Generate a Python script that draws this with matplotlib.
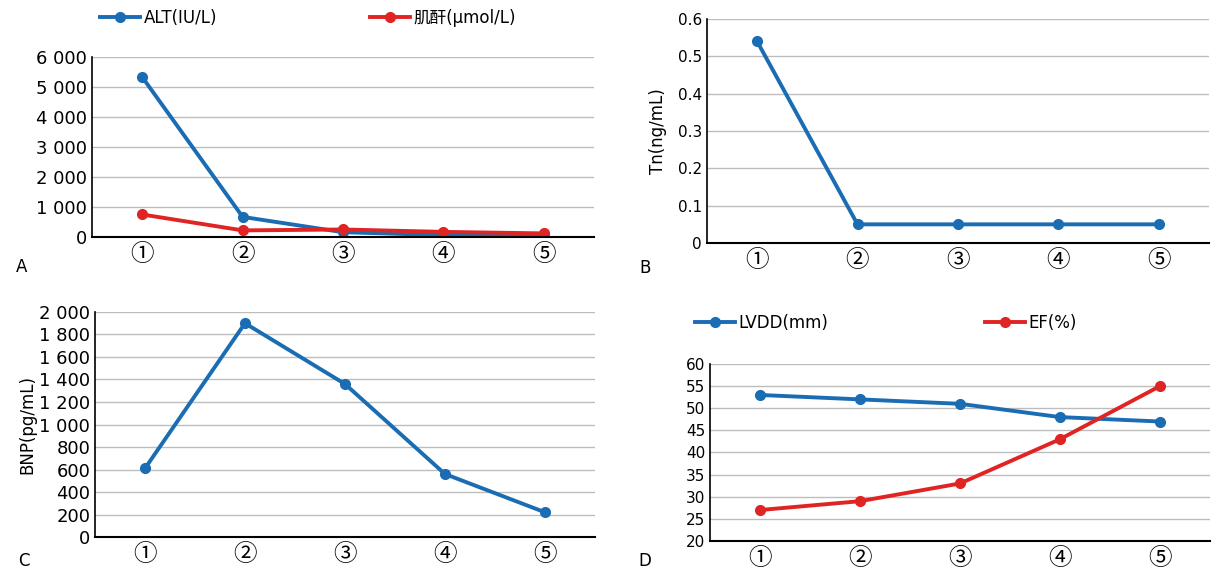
import matplotlib.pyplot as plt
from matplotlib.legend import Legend
from matplotlib.ticker import FuncFormatter

plt.rcParams['font.family'] = ['DejaVu Sans', 'Noto Sans CJK SC']

stages = ['①', '②', '③', '④', '⑤']

# panel A
alt = [5330, 670, 160, 60, 30]
creat = [750, 220, 250, 170, 120]
# panel B
tn = [0.54, 0.05, 0.05, 0.05, 0.05]
# panel C
bnp = [610, 1900, 1360, 560, 220]
# panel D
lvdd = [53, 52, 51, 48, 47]
ef = [27, 29, 33, 43, 55]

BLUE = '#1a6db3'
RED = '#e02424'
GRID = '#bdbdbd'


def thousands(v, pos):
    v = int(round(v))
    if v >= 1000:
        return '%d %03d' % (v // 1000, v % 1000)
    return str(v)


def style(ax, ylim, step, fmt=None, fs=12):
    ax.set_xlim(0, 5)
    ax.set_ylim(*ylim)
    ticks = []
    t = ylim[0]
    while t <= ylim[1] + 1e-9:
        ticks.append(round(t, 6))
        t += step
    ax.set_yticks(ticks)
    if fmt:
        ax.yaxis.set_major_formatter(FuncFormatter(fmt))
    ax.set_xticks([i + 0.5 for i in range(5)])
    ax.set_xticklabels(stages, fontsize=17, family=['Noto Sans CJK SC', 'DejaVu Sans'])
    ax.tick_params(axis='y', length=0, labelsize=fs)
    ax.tick_params(axis='x', length=0, pad=4)
    ax.grid(axis='y', color=GRID, lw=1)
    ax.set_axisbelow(True)
    for s in ['top', 'right']:
        ax.spines[s].set_visible(False)
    ax.spines['left'].set_linewidth(1.2)
    ax.spines['bottom'].set_linewidth(1.5)


def legend_at(ax, line, label, xpos, ypos):
    leg = Legend(ax, [line], [label], loc='center left', bbox_to_anchor=(xpos, ypos),
                 frameon=False, handlelength=2.4, handletextpad=0.2,
                 borderaxespad=0, borderpad=0,
                 prop={'family': ['DejaVu Sans', 'Noto Sans CJK SC'], 'size': 12})
    ax.add_artist(leg)


fig = plt.figure(figsize=(12.32, 5.69), dpi=100)
x = [i + 0.5 for i in range(5)]
kw = dict(lw=2.8, marker='o', ms=7)

axA = fig.add_axes([0.0747, 0.5835, 0.4075, 0.3163])
la, = axA.plot(x, alt, color=BLUE, **kw)
lc, = axA.plot(x, creat, color=RED, **kw)
style(axA, (0, 6000), 1000, thousands, fs=13)
legend_at(axA, la, 'ALT(IU/L)', 0.016, 1.217)
legend_at(axA, lc, '肌酐(μmol/L)', 0.554, 1.217)

axB = fig.add_axes([0.5738, 0.5729, 0.4075, 0.3937])
axB.plot(x, tn, color=BLUE, **kw)
style(axB, (0, 0.6), 0.1, lambda v, p: '0' if v == 0 else '%.1f' % v, fs=11)
axB.set_ylabel('Tn(ng/mL)', fontsize=12, labelpad=8)

axC = fig.add_axes([0.0771, 0.0562, 0.4058, 0.3955])
axC.plot(x, bnp, color=BLUE, **kw)
style(axC, (0, 2000), 200, thousands, fs=13)
axC.set_ylabel('BNP(pg/mL)', fontsize=12, labelpad=2)

axD = fig.add_axes([0.5763, 0.0492, 0.4058, 0.3111])
ll, = axD.plot(x, lvdd, color=BLUE, **kw)
le, = axD.plot(x, ef, color=RED, **kw)
style(axD, (20, 60), 5, fs=11)
legend_at(axD, ll, 'LVDD(mm)', -0.03, 1.23)
legend_at(axD, le, 'EF(%)', 0.55, 1.23)

for lab, (px, py) in zip('ABCD', [(22, 267), (645, 268), (24, 561), (645, 561)]):
    fig.text(px / 1232, 1 - py / 569, lab, fontsize=12, ha='center', va='center')

fig.savefig('out.png', dpi=100)
